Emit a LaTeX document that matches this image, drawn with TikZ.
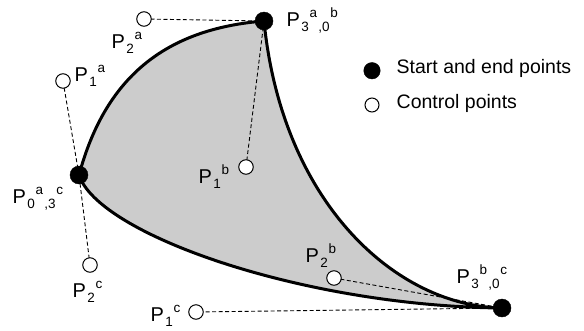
\documentclass[tikz,border=0pt]{standalone}
\usepackage{fontspec}
\setmainfont{Liberation Sans}
\newcommand\lsub[1]{\kern1.4pt\raisebox{-5pt}{\fontsize{13.5}{13.5}\selectfont #1}}
\newcommand\lsup[1]{\kern0.6pt\raisebox{9pt}{\fontsize{13.5}{13.5}\selectfont #1}}
\begin{document}
\begin{tikzpicture}[x=1pt,y=-1pt,
  endpt/.style={circle,fill=black,draw=black,minimum size=18pt,inner sep=0pt},
  ctrlpt/.style={circle,fill=white,draw=black,line width=1pt,minimum size=14.5pt,inner sep=0pt},
  ctrlline/.style={line width=0.9pt,dash pattern=on 4pt off 2.5pt},
  curveline/.style={line width=3pt,fill=black!20,line join=round},
  lbl/.style={anchor=base west,inner sep=0pt,font=\fontsize{20}{22}\selectfont},
  leg/.style={anchor=base west,inner sep=0pt,font=\fontsize{19.5}{22}\selectfont}]
\useasboundingbox (0,0) rectangle (584,330);
% points
\coordinate (A0) at (79,175);
\coordinate (A1) at (63,81);
\coordinate (A2) at (144,19);
\coordinate (A3) at (264,21);
\coordinate (B1) at (246,167);
\coordinate (B2) at (334,278);
\coordinate (B3) at (502,308);
\coordinate (C1) at (196,312);
\coordinate (C2) at (90,265);
% filled region (shape follows the drawn curve)
\draw[curveline] (A0) .. controls (105,78.5) and (164,29) .. (A3)
  .. controls (282,203) and (396,306) .. (B3)
  .. controls (302,306) and (98,234) .. (A0) -- cycle;
% control polygons
\draw[ctrlline] (A0) -- (A1);
\draw[ctrlline] (A2) -- (A3);
\draw[ctrlline] (A3) -- (B1);
\draw[ctrlline] (B2) -- (B3);
\draw[ctrlline] (B3) -- (C1);
\draw[ctrlline] (C2) -- (A0);
% point markers
\node[endpt] (pA0) at (A0) {};
\node[endpt] (pA3) at (A3) {};
\node[endpt] (pB3) at (B3) {};
\node[ctrlpt] (pA1) at (A1) {};
\node[ctrlpt] (pA2) at (A2) {};
\node[ctrlpt] (pB1) at (B1) {};
\node[ctrlpt] (pB2) at (B2) {};
\node[ctrlpt] (pC1) at (C1) {};
\node[ctrlpt] (pC2) at (C2) {};
% labels
\node[lbl] (lA2) at (111.5,48) {P\lsub{2}\lsup{a}};
\node[lbl] (lA1) at (74.5,81) {P\lsub{1}\lsup{a}};
\node[lbl] (lA3) at (286.5,26) {P\lsub{3}\lsup{a}\lsub{,0}\lsup{b}};
\node[lbl] (lB1) at (198.5,183) {P\lsub{1}\lsup{b}};
\node[lbl] (lA0) at (12.5,203) {P\lsub{0}\lsup{a}\lsub{,3}\lsup{c}};
\node[lbl] (lC2) at (72.5,297) {P\lsub{2}\lsup{c}};
\node[lbl] (lC1) at (150.5,321) {P\lsub{1}\lsup{c}};
\node[lbl] (lB2) at (305.5,262) {P\lsub{2}\lsup{b}};
\node[lbl] (lB3) at (456.5,283) {P\lsub{3}\lsup{b}\lsub{,0}\lsup{c}};
% legend
\node[endpt,minimum size=16.5pt] (legE) at (372,70.7) {};
\node[ctrlpt,minimum size=14pt] (legC) at (372,105) {};
\node[leg] (legEt) at (396.5,73.5) {Start and end points};
\node[leg] (legCt) at (396.5,108) {Control points};
\end{tikzpicture}
\end{document}
